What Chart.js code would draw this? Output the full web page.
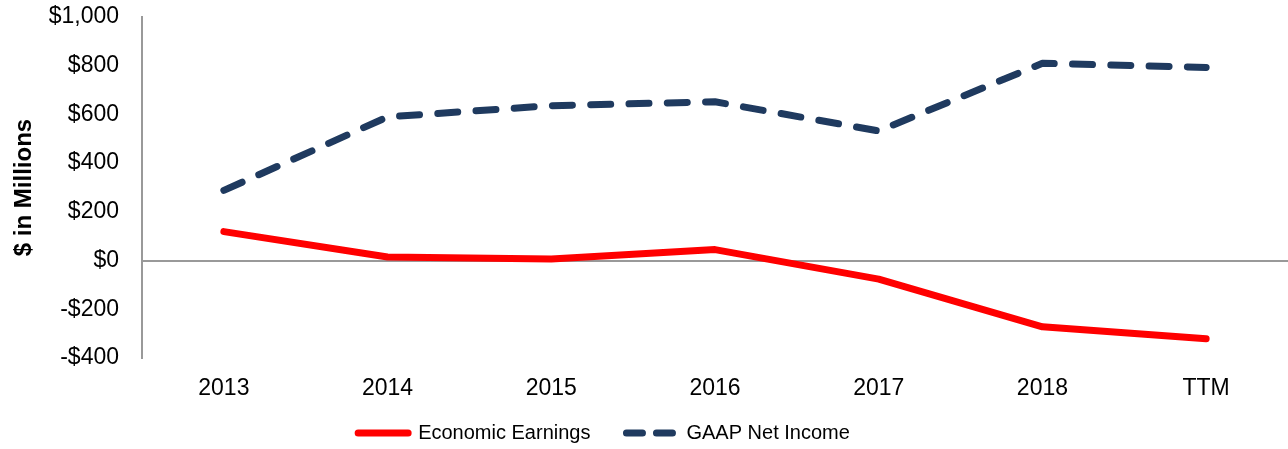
<!DOCTYPE html>
<html><head><meta charset="utf-8">
<script src="https://cdn.jsdelivr.net/npm/chart.js@4/dist/chart.umd.min.js"></script>
<style>html,body{margin:0;padding:0;background:#fff;overflow:hidden}#wrap{width:1288px;height:449px;position:relative}</style>
</head><body><div id="wrap"><canvas id="c"></canvas></div>
<script>
const categories = ['2013', '2014', '2015', '2016', '2017', '2018', 'TTM'];
const economicEarnings = [119, 15, 6, 45, -76, -272, -321];
const gaapNetIncome = [288, 590, 636, 652, 532, 810, 793];
const yTickValues = [-400, -200, 0, 200, 400, 600, 800, 1000];
const seriesNames = ['Economic Earnings', 'GAAP Net Income'];

function fmtMoney(v) {
  return (v < 0 ? '-' : '') + '$' + Math.abs(v).toLocaleString('en-US');
}

const legendShift = {
  id: 'legendShift',
  afterUpdate(chart) {
    const lg = chart.legend;
    if (!lg) return;
    lg.left -= 40; lg.right -= 40;
    lg.top = 387; lg.bottom = 449; lg.height = 62;
  }
};

new Chart(document.getElementById('c'), {
  type: 'line',
  data: {
    labels: categories,
    datasets: [
      {
        label: seriesNames[0], data: economicEarnings,
        borderColor: '#FF0000', backgroundColor: '#FF0000',
        borderWidth: 7, borderCapStyle: 'round', borderJoinStyle: 'round',
        pointRadius: 0, tension: 0, fill: false
      },
      {
        label: seriesNames[1], data: gaapNetIncome,
        borderColor: '#1F3A5F', backgroundColor: '#1F3A5F',
        borderWidth: 7, borderCapStyle: 'round', borderJoinStyle: 'round',
        borderDash: [20, 18.3],
        pointRadius: 0, tension: 0, fill: false
      }
    ]
  },
  options: {
    responsive: true, maintainAspectRatio: false, animation: false,
    layout: { autoPadding: false, padding: { top: 17, right: 0, bottom: 0, left: 0 } },
    plugins: {
      tooltip: { enabled: false },
      legend: {
        position: 'bottom',
        maxHeight: 51,
        labels: {
          font: { family: 'Liberation Sans, Arial, sans-serif', size: 20 },
          color: '#000',
          usePointStyle: true, pointStyle: 'line', pointStyleWidth: 50, boxWidth: 50,
          padding: 36,
          generateLabels(chart) {
            return chart.data.datasets.map((ds, i) => ({
              text: ds.label, strokeStyle: ds.borderColor, fillStyle: ds.borderColor,
              lineWidth: 7, lineCap: 'round', lineJoin: 'round',
              lineDash: i === 1 ? [16, 14] : [], pointStyle: 'line',
              hidden: false, datasetIndex: i, fontColor: '#000'
            }));
          }
        }
      }
    },
    scales: {
      x: {
        type: 'category', offset: true,
        grid: { display: false, drawTicks: false },
        border: { display: false },
        ticks: { font: { family: 'Liberation Sans, Arial, sans-serif', size: 23 }, color: '#000', padding: 17, maxRotation: 0, autoSkip: false },
        afterFit(scale) { scale.height = 40; scale.paddingLeft = 0; scale.paddingRight = 0; }
      },
      y: {
        min: -400, max: 1000,
        afterBuildTicks(scale) { scale.ticks = yTickValues.map(v => ({ value: v })); },
        grid: {
          drawTicks: false,
          color: ctx => (ctx.tick && ctx.tick.value === 0) ? '#999999' : 'rgba(0,0,0,0)',
          lineWidth: 2
        },
        border: { display: true, color: '#999999', width: 2 },
        ticks: {
          font: { family: 'Liberation Sans, Arial, sans-serif', size: 23 }, color: '#000', padding: 23,
          callback: v => fmtMoney(v)
        },
        title: {
          display: true, text: '$ in Millions',
          font: { family: 'Liberation Sans, Arial, sans-serif', size: 24, weight: 'bold' },
          color: '#000', padding: { top: 10, bottom: 0 }
        },
        afterFit(scale) { scale.width = 142; scale.paddingTop = 0; scale.paddingBottom = 0; }
      }
    }
  },
  plugins: [legendShift]
});
</script>
</body></html>
